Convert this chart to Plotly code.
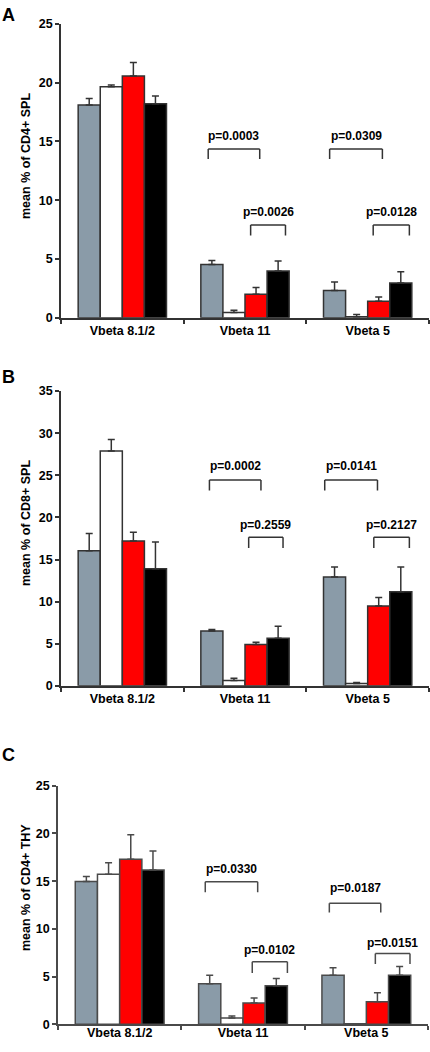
import plotly.graph_objects as go

categories = ["Vbeta 8.1/2", "Vbeta 11", "Vbeta 5"]
series_names = ["Group 1", "Group 2", "Group 3", "Group 4"]

# Panel A: mean % of CD4+ SPL (mean, upper error)
A_gray = [18.1, 4.53, 2.32]
A_gray_err = [0.55, 0.34, 0.73]
A_white = [19.65, 0.45, 0.10]
A_white_err = [0.15, 0.20, 0.18]
A_red = [20.55, 2.0, 1.4]
A_red_err = [1.15, 0.57, 0.36]
A_black = [18.2, 3.97, 2.96]
A_black_err = [0.65, 0.87, 0.96]

# Panel B: mean % of CD8+ SPL
B_gray = [16.05, 6.52, 12.93]
B_gray_err = [2.03, 0.16, 1.17]
B_white = [27.9, 0.62, 0.27]
B_white_err = [1.36, 0.28, 0.12]
B_red = [17.2, 4.92, 9.49]
B_red_err = [1.04, 0.27, 1.01]
B_black = [13.9, 5.66, 11.17]
B_black_err = [3.17, 1.41, 2.93]

# Panel C: mean % of CD4+ THY
C_gray = [14.97, 4.24, 5.14]
C_gray_err = [0.52, 0.90, 0.79]
C_white = [15.72, 0.65, 0.05]
C_white_err = [1.21, 0.21, 0.0]
C_red = [17.31, 2.24, 2.35]
C_red_err = [2.55, 0.52, 0.96]
C_black = [16.17, 4.03, 5.14]
C_black_err = [2.0, 0.76, 0.93]

# p-value labels per panel
A_pvals = ["p=0.0003", "p=0.0309", "p=0.0026", "p=0.0128"]
B_pvals = ["p=0.0002", "p=0.0141", "p=0.2559", "p=0.2127"]
C_pvals = ["p=0.0330", "p=0.0187", "p=0.0102", "p=0.0151"]

panel_titles = ["A", "B", "C"]
y_titles = ["mean % of CD4+ SPL", "mean % of CD8+ SPL", "mean % of CD4+ THY"]
y_ranges = [25, 35, 25]
y_dtick = 5

# ---- layout / style config ----
W, H = 430, 1052
FONT = "Liberation Sans, Arial, sans-serif"
colors = ["#8a9ba8", "#ffffff", "#ff0000", "#000000"]

panels = [
    dict(vals=[(A_gray, A_gray_err), (A_white, A_white_err), (A_red, A_red_err), (A_black, A_black_err)],
         x0px=61, x1px=429, ybot=315, ytop=17, line="#333333", standoff=0,
         letter_y=8, title_y=151,
         brackets=[(1, -0.30, 0.12, 14.35, 13.5, 15.5), (2, -0.31, 0.12, 14.35, 13.5, 15.5),
                   (1, 0.046, 0.33, 7.9, 7.0, 9.0), (2, 0.045, 0.34, 7.9, 7.0, 9.0)],
         pvals=A_pvals),
    dict(vals=[(B_gray, B_gray_err), (B_white, B_white_err), (B_red, B_red_err), (B_black, B_black_err)],
         x0px=61, x1px=429, ybot=688, ytop=389.3, line="#333333", standoff=0,
         letter_y=375, title_y=523,
         brackets=[(1, -0.29, 0.13, 24.45, 23.2, 26.05), (2, -0.35, 0.08, 24.45, 23.2, 26.05),
                   (1, 0.03, 0.31, 17.66, 16.37, 19.1), (2, 0.05, 0.34, 17.66, 16.37, 19.1)],
         pvals=B_pvals),
    dict(vals=[(C_gray, C_gray_err), (C_white, C_white_err), (C_red, C_red_err), (C_black, C_black_err)],
         x0px=58, x1px=428, ybot=1031, ytop=789.3, line="#4a4a4a", standoff=-4,
         letter_y=758, title_y=893,
         brackets=[(1, -0.306, 0.119, 14.93, 13.83, 16.31), (2, -0.30, 0.117, 12.69, 11.72, 14.24),
                   (1, 0.075, 0.36, 6.55, 5.38, 7.76), (2, 0.073, 0.354, 7.41, 6.31, 8.55)],
         pvals=C_pvals),
]

fig = go.Figure()
shapes = []
annotations = []

for i, p in enumerate(panels):
    sfx = "" if i == 0 else str(i + 1)
    xa, ya = "x" + sfx, "y" + sfx
    for j, (vals, errs) in enumerate(p["vals"]):
        fig.add_trace(go.Bar(
            x=categories, y=vals, name=series_names[j], showlegend=False,
            xaxis=xa, yaxis=ya,
            marker=dict(color=colors[j], line=dict(color=p["line"], width=1.5)),
            error_y=dict(type="data", symmetric=False, array=errs,
                         arrayminus=[0] * len(errs), color=p["line"],
                         thickness=1.5, width=3.5),
        ))
    xd = [p["x0px"] / W, p["x1px"] / W]
    yd = [1 - p["ybot"] / H, 1 - p["ytop"] / H]
    fig.layout["xaxis" + sfx] = dict(
        domain=xd, anchor=ya, type="category", range=[-0.5, 2.5],
        showline=True, linecolor=p["line"], linewidth=1.5,
        ticks="outside", tickson="boundaries", ticklen=4, tickwidth=1.5,
        tickcolor=p["line"], showgrid=False, zeroline=False,
        ticklabelstandoff=p["standoff"],
        tickfont=dict(family=FONT, size=12.5, color="#000", weight="bold"),
    )
    fig.layout["yaxis" + sfx] = dict(
        domain=yd, anchor=xa, range=[0, y_ranges[i]], dtick=y_dtick,
        showline=True, linecolor=p["line"], linewidth=1.5,
        ticks="outside", ticklen=4, tickwidth=1.5, tickcolor=p["line"],
        showgrid=False, zeroline=False,
        tickfont=dict(family=FONT, size=12.5, color="#000", weight="bold"),
    )
    # panel letter
    annotations.append(dict(text=panel_titles[i], xref="paper", yref="paper",
                            x=0, y=1 - p["letter_y"] / H, xanchor="left", yanchor="middle",
                            showarrow=False, font=dict(family=FONT, size=18, color="#000", weight="bold")))
    # y title
    annotations.append(dict(text=y_titles[i], xref="paper", yref="paper",
                            x=26 / W, y=1 - p["title_y"] / H, xanchor="center", yanchor="middle",
                            textangle=-90, showarrow=False,
                            font=dict(family=FONT, size=12.5, color="#000", weight="bold")))
    # brackets
    for (cat, o0, o1, ytop, yleg, ytxt), lab in zip(p["brackets"], p["pvals"]):
        xa0, xa1 = cat + o0, cat + o1
        for (sx0, sy0, sx1, sy1) in [(xa0, yleg, xa0, ytop), (xa0, ytop, xa1, ytop), (xa1, ytop, xa1, yleg)]:
            shapes.append(dict(type="line", xref=xa, yref=ya, x0=sx0, y0=sy0, x1=sx1, y1=sy1,
                               line=dict(color=p["line"], width=1.5)))
        annotations.append(dict(text=lab, xref=xa, yref=ya, x=(xa0 + xa1) / 2, y=ytxt,
                                xanchor="center", yanchor="middle", showarrow=False,
                                font=dict(family=FONT, size=12, color="#000", weight="bold")))

fig.update_layout(
    width=W, height=H, margin=dict(l=0, r=0, t=0, b=0),
    paper_bgcolor="white", plot_bgcolor="white",
    barmode="group", bargap=0.28, bargroupgap=0,
    shapes=shapes, annotations=annotations,
    font=dict(family=FONT, color="#000"),
)

fig.write_html("out.html", config={"displayModeBar": False},
               post_script="document.body.style.margin='0';document.body.style.padding='0';"
                           "document.body.style.overflow='hidden';")
